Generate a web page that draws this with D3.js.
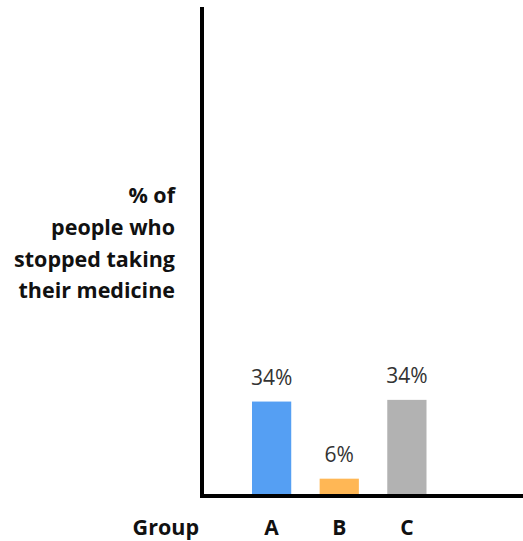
<!DOCTYPE html>
<html>
<head>
<meta charset="utf-8">
<script src="https://cdn.jsdelivr.net/npm/d3@7"></script>
<style>
  body { margin: 0; background: #fff; }
  svg { display: block; font-family: "Open Sans", sans-serif; }
</style>
</head>
<body>
<div id="chart"></div>
<script>
const groups = ["A", "B", "C"];
const values = [33.8, 6.2, 34.4];
const valueLabels = ["34%", "6%", "34%"];
const colors = ["#559FF3", "#FFB755", "#B2B2B2"];
const yLabelLines = ["% of", "people who", "stopped taking", "their medicine"];

const width = 523, height = 541;
const margin = { top: 7, right: 0, bottom: 45, left: 202 };
const chartW = width - margin.left - margin.right;
const chartH = height - margin.top - margin.bottom;

const svg = d3.select("#chart").append("svg")
  .attr("width", width)
  .attr("height", height);

const g = svg.append("g")
  .attr("transform", `translate(${margin.left},${margin.top})`);

const x = d3.scaleBand()
  .domain(groups)
  .range([50, 224.5])
  .paddingInner(0.42)
  .paddingOuter(0);

const y = d3.scaleLinear().domain([0, 175]).range([chartH, 0]);

// bars
g.selectAll(".bar")
  .data(groups)
  .join("rect")
  .attr("class", "bar")
  .attr("x", d => x(d))
  .attr("width", x.bandwidth())
  .attr("y", (d, i) => y(values[i]))
  .attr("height", (d, i) => chartH - y(values[i]))
  .attr("fill", (d, i) => colors[i]);

// value labels
g.selectAll(".val")
  .data(groups)
  .join("text")
  .attr("class", "val")
  .attr("x", d => x(d) + x.bandwidth() / 2)
  .attr("y", (d, i) => y(values[i]) - 17)
  .attr("text-anchor", "middle")
  .attr("font-size", "21px")
  .attr("fill", "#333")
  .text((d, i) => valueLabels[i]);

// axes lines
g.append("line")
  .attr("x1", 0).attr("x2", 0)
  .attr("y1", 0).attr("y2", chartH + 2)
  .attr("stroke", "#000").attr("stroke-width", 4);
g.append("line")
  .attr("x1", -2).attr("x2", chartW)
  .attr("y1", chartH).attr("y2", chartH)
  .attr("stroke", "#000").attr("stroke-width", 4);

// x axis via d3 axis, hide domain/ticks
const xAxis = g.append("g")
  .attr("transform", `translate(0,${chartH})`)
  .call(d3.axisBottom(x).tickSize(0).tickPadding(24));
xAxis.select(".domain").remove();
xAxis.selectAll("text")
  .attr("font-family", "'Open Sans', sans-serif")
  .attr("font-size", "21px")
  .attr("font-weight", "700")
  .attr("fill", "#111");

svg.append("text")
  .attr("x", 199)
  .attr("y", 535)
  .attr("text-anchor", "end")
  .attr("font-size", "21.5px")
  .attr("font-weight", "700")
  .attr("fill", "#111")
  .text("Group");

// y label
const yl = svg.append("text")
  .attr("text-anchor", "end")
  .attr("font-size", "21.5px")
  .attr("font-weight", "700")
  .attr("fill", "#111");
yLabelLines.forEach((line, i) => {
  yl.append("tspan")
    .attr("x", 175)
    .attr("y", 203 + i * 31.8)
    .text(line);
});
</script>
</body>
</html>
